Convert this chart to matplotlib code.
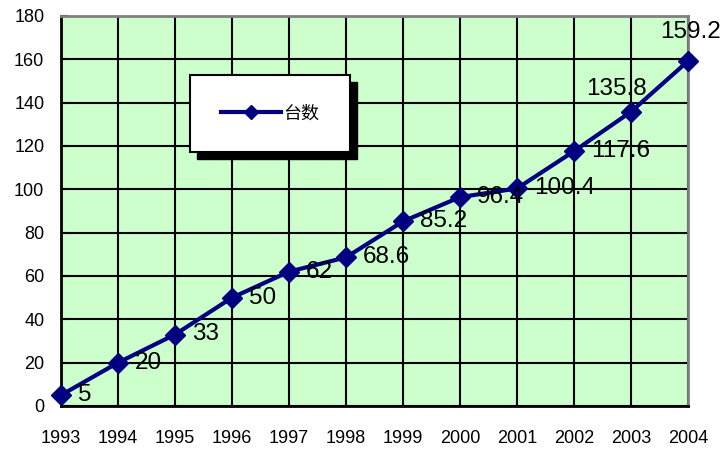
import matplotlib.pyplot as plt
from matplotlib.patches import Rectangle
from matplotlib.lines import Line2D

plt.rcParams['font.family'] = ['Liberation Sans', 'Noto Sans CJK SC', 'DejaVu Sans']

years = [1993, 1994, 1995, 1996, 1997, 1998, 1999, 2000, 2001, 2002, 2003, 2004]
counts = [5, 20, 33, 50, 62, 68.6, 85.2, 96.4, 100.4, 117.6, 135.8, 159.2]
labels = ['5', '20', '33', '50', '62', '68.6', '85.2', '96.4', '100.4', '117.6', '135.8', '159.2']
series_name = '台数'

navy = '#000080'

fig = plt.figure(figsize=(7.28, 4.54), dpi=100)
ax = fig.add_axes([61 / 728, 48 / 454, 627 / 728, 390 / 454])
ax.set_facecolor('#CCFFCC')

ax.plot(years, counts, color=navy, lw=3, marker='D', ms=10, zorder=5, clip_on=False)

# data labels: right of point, last two above
for x, y, s in zip(years, counts, labels):
    if s == '135.8':
        off, ha = (-15, 23), 'center'
    elif s == '159.2':
        off, ha = (2, 29), 'center'
    else:
        off, ha = (17, 0), 'left'
    ax.annotate(s, (x, y), xytext=off, textcoords='offset pixels',
                ha=ha, va='center', fontsize=17.5, zorder=6)

ax.set_xlim(1993, 2004)
ax.set_ylim(0, 180)
ax.set_xticks(years)
ax.set_yticks(range(0, 181, 20))
ax.tick_params(axis='x', length=0, pad=17, labelsize=13)
ax.tick_params(axis='y', direction='in', length=5, width=1.5, pad=12, labelsize=13)
ax.grid(True, color='black', lw=1.5, zorder=1)
ax.set_axisbelow(True)

for side in ['left', 'bottom']:
    ax.spines[side].set_color('black')
    ax.spines[side].set_linewidth(2)
for side in ['top', 'right']:
    ax.spines[side].set_color('#808080')
    ax.spines[side].set_linewidth(2)

# legend box with shadow
bx0, bx1 = (190 - 61) / 627, (350 - 61) / 627
by0, by1 = (406 - 152) / 390, (406 - 75) / 390
ax.add_patch(Rectangle((bx0 + 7 / 627, by0 - 7 / 390), bx1 - bx0, by1 - by0,
                       transform=ax.transAxes, facecolor='black', edgecolor='black', zorder=3))
ax.add_patch(Rectangle((bx0, by0), bx1 - bx0, by1 - by0, transform=ax.transAxes,
                       facecolor='white', edgecolor='black', lw=1.5, zorder=3))
handle = Line2D([], [], color=navy, lw=3, marker='D', ms=7)
leg = ax.legend([handle], [series_name], loc='center',
                bbox_to_anchor=((bx0 + bx1) / 2, (by0 + by1) / 2),
                frameon=False, handlelength=3.3, handletextpad=0.1,
                prop={'family': ['Noto Sans CJK SC', 'DejaVu Sans'], 'size': 13})
leg.set_zorder(4)

fig.savefig('out.png', dpi=100)
